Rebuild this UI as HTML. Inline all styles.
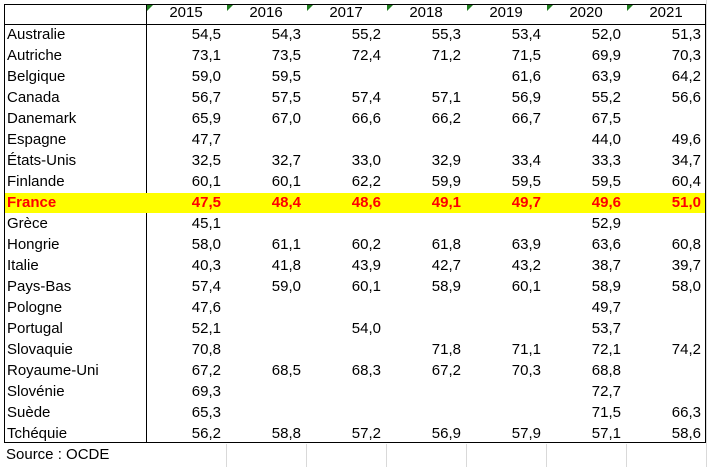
<!DOCTYPE html>
<html><head><meta charset="utf-8"><style>
body{margin:0;width:714px;height:467px;background:#fff;position:relative;overflow:hidden;font-family:"Liberation Sans",Arial,sans-serif;font-size:15px;color:#000}
.c{position:absolute;height:21px;line-height:21px;white-space:nowrap}
.r{text-align:right}
.g{position:absolute;background:#d9d9d9}
</style></head><body>
<div>
<div class="g" style="left:226px;top:444px;width:1px;height:23px"></div>
<div class="g" style="left:306px;top:444px;width:1px;height:23px"></div>
<div class="g" style="left:386px;top:444px;width:1px;height:23px"></div>
<div class="g" style="left:466px;top:444px;width:1px;height:23px"></div>
<div class="g" style="left:546px;top:444px;width:1px;height:23px"></div>
<div class="g" style="left:626px;top:444px;width:1px;height:23px"></div>
<div class="g" style="left:706px;top:444px;width:1px;height:23px"></div>
<div class="g" style="left:706px;top:0;width:1px;height:467px"></div>
</div>
<div id="tbl" style="position:absolute;left:4px;top:4px;width:702px;height:439px;border:1px solid #000;box-sizing:border-box"></div>
<div style="position:absolute;left:4px;top:24px;width:702px;height:1px;background:#000"></div>
<div style="position:absolute;left:146px;top:4px;width:1px;height:439px;background:#000"></div>
<div id="cells"></div>
<div class="c" style="left:6px;top:444px">Source : OCDE</div>
<script>
const years=["2015","2016","2017","2018","2019","2020","2021"];
const countries=["Australie","Autriche","Belgique","Canada","Danemark","Espagne","États-Unis","Finlande","France","Grèce","Hongrie","Italie","Pays-Bas","Pologne","Portugal","Slovaquie","Royaume-Uni","Slovénie","Suède","Tchéquie"];
const values=[
["54,5","54,3","55,2","55,3","53,4","52,0","51,3"],
["73,1","73,5","72,4","71,2","71,5","69,9","70,3"],
["59,0","59,5","","","61,6","63,9","64,2"],
["56,7","57,5","57,4","57,1","56,9","55,2","56,6"],
["65,9","67,0","66,6","66,2","66,7","67,5",""],
["47,7","","","","","44,0","49,6"],
["32,5","32,7","33,0","32,9","33,4","33,3","34,7"],
["60,1","60,1","62,2","59,9","59,5","59,5","60,4"],
["47,5","48,4","48,6","49,1","49,7","49,6","51,0"],
["45,1","","","","","52,9",""],
["58,0","61,1","60,2","61,8","63,9","63,6","60,8"],
["40,3","41,8","43,9","42,7","43,2","38,7","39,7"],
["57,4","59,0","60,1","58,9","60,1","58,9","58,0"],
["47,6","","","","","49,7",""],
["52,1","","54,0","","","53,7",""],
["70,8","","","71,8","71,1","72,1","74,2"],
["67,2","68,5","68,3","67,2","70,3","68,8",""],
["69,3","","","","","72,7",""],
["65,3","","","","","71,5","66,3"],
["56,2","58,8","57,2","56,9","57,9","57,1","58,6"]];
const host=document.getElementById('cells');
function mk(cls,x,y,w,txt){const d=document.createElement('div');d.className=cls;d.style.left=x+'px';d.style.top=y+'px';if(w)d.style.width=w+'px';d.textContent=txt;host.appendChild(d);return d;}
years.forEach((y,j)=>{
const d=mk('c',146+80*j,2,80,y);d.style.textAlign='center';


const t=document.createElement('div');t.style.cssText='position:absolute;left:'+(147+80*j)+'px;top:5px;width:0;height:0;border-top:6px solid #1e7b1e;border-right:6px solid transparent';


host.appendChild(t);
});
countries.forEach((c,i)=>{
const top=24+21*i;const fr=c==='France';
if(fr){const b=document.createElement('div');b.style.cssText='position:absolute;left:5px;top:'+(top+1)+'px;width:700px;height:20px;background:#ffff00';


host.appendChild(b);}
const l=mk('c',7,top,null,c);


if(fr){l.style.color='#ff0000';l.style.fontWeight='bold';}
values[i].forEach((v,j)=>{
const d=mk('c r',146+80*j,top,75,v);


if(fr){d.style.color='#ff0000';d.style.fontWeight='bold';}
});
});
</script>
</body></html>
